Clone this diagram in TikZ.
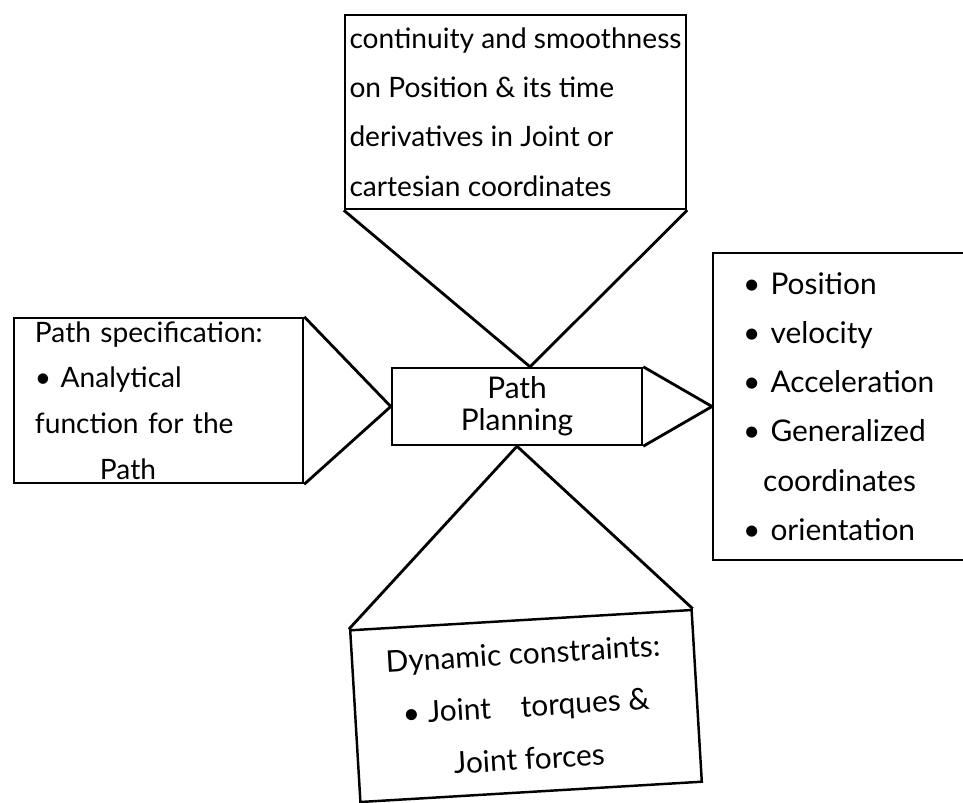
\documentclass[tikz,border=0pt]{standalone}
\usepackage{fontspec}
\setmainfont{Lato}
\usepackage{tikz}
\usetikzlibrary{positioning}

\tikzset{
    box/.style={draw, line width=1.4pt, inner sep=0pt},
    hand/.style={font=\fontsize{16}{28}\selectfont},
}

\begin{document}
\begin{tikzpicture}[x=0.2mm,y=-0.2mm]
            \useasboundingbox (0,0) rectangle (963,802);
            \clip (0,0) rectangle (963,802); % right box runs off the edge

            % central box
            \node[box, minimum width=50mm, minimum height=15.4mm, align=center,
                  font=\fontsize{17}{18}\selectfont] (plan) at (517,406.5) {Path\\Planning};

            % requirements round it
            \node[box, hand, minimum width=68.2mm, minimum height=38.8mm,
                  align=left] (cont) at (515.5,112)
                {continuity and smoothness\\on Position \& its time\\derivatives in Joint or\\cartesian coordinates};
            \node[box, minimum width=57.8mm, minimum height=33mm, text width=49.4mm,
                  align=left, font=\fontsize{16}{26}\selectfont] (spec) at (158.5,400.5)
                {Path specification:\\\textbullet\ Analytical\\function for the\\\hspace*{13mm}Path};
            \node[box, anchor=west, minimum width=60mm, minimum height=61.4mm, text width=48mm,
                  align=left, font=\fontsize{17}{28}\selectfont] (out) at (712,406.5)
                {\textbullet\ Position\\\textbullet\ velocity\\\textbullet\ Acceleration\\
                 \textbullet\ Generalized\\\hspace*{4mm}coordinates\\\textbullet\ orientation};
            \node[box, minimum width=68.4mm, minimum height=34.4mm, align=center, rotate=3.4,
                  font=\fontsize{17}{30}\selectfont] (dyn) at (526,706)
                {Dynamic constraints:\\\textbullet\ Joint\quad torques \&\\Joint forces};

            % funnels into the central box
            \begin{scope}[line width=1.6pt, line join=round]
                \draw (cont.south west) -- ([xshift=2.6mm]plan.north) -- (cont.south east);
                \draw (spec.north east) -- (plan.west) -- (spec.south east);
                \draw (dyn.north west) -- (plan.south) -- (dyn.north east);
                \draw (plan.north east) -- (out.west) -- (plan.south east);
            \end{scope}
\end{tikzpicture}
\end{document}
